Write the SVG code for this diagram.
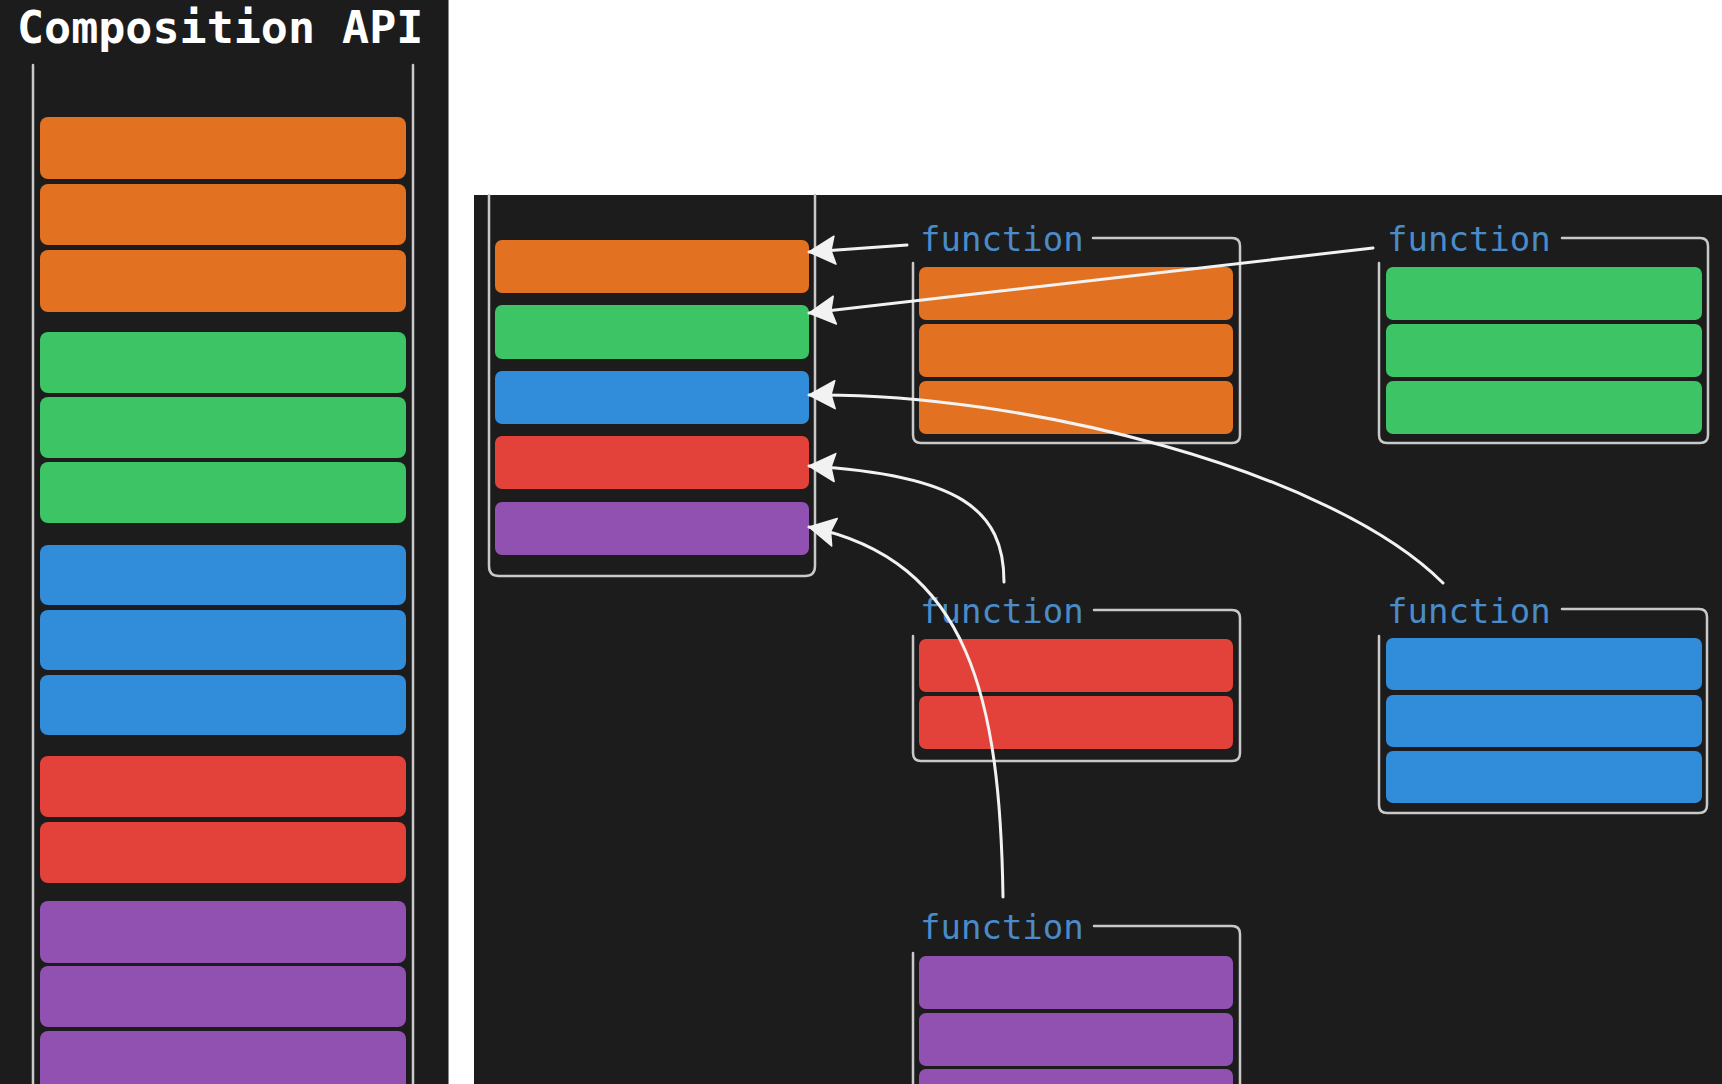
<svg xmlns="http://www.w3.org/2000/svg" width="1722" height="1084" viewBox="0 0 1722 1084">
  <defs>
    <style>
      .panel { fill: #1c1c1c; }
      .frame { fill: none; stroke: #c9c9c9; stroke-width: 2.5; stroke-linecap: round; stroke-linejoin: round; }
      .or { fill: #e27222; }
      .gr { fill: #3cc465; }
      .bl { fill: #318cda; }
      .rd { fill: #e24239; }
      .pu { fill: #9151b0; }
      .title { font-family: "DejaVu Sans Mono", "Liberation Mono", monospace; font-weight: bold; font-size: 45px; fill: #ffffff; }
      .fn { font-family: "DejaVu Sans Mono", "Liberation Mono", monospace; font-size: 34px; fill: #4a8bc8; }
      .conn { fill: none; stroke: #f2f2f2; stroke-width: 3; stroke-linecap: round; }
    </style>
    <marker id="arrow" markerUnits="userSpaceOnUse" viewBox="0 -16 28 32" markerWidth="28" markerHeight="32" refX="27" refY="0" orient="auto">
      <path d="M27,0 L1,-14 L5,0 L1,14 Z" fill="#f2f2f2" stroke="#f2f2f2" stroke-width="1.5" stroke-linejoin="round"/>
    </marker>
  </defs>

  <rect x="0" y="0" width="1722" height="1084" fill="#ffffff"/>

  <!-- Left panel -->
  <g id="left-panel">
    <rect class="panel" x="0" y="0" width="448" height="1084"/>
    <line x1="448.5" y1="0" x2="448.5" y2="1084" stroke="#8a8a8a" stroke-width="1"/>
    <text class="title" x="17" y="43">Composition API</text>
    <line class="frame" x1="33" y1="65" x2="33" y2="1090"/>
    <line class="frame" x1="413" y1="65" x2="413" y2="1090"/>
    <rect class="or" x="40" y="117" width="366" height="62" rx="8"/>
    <rect class="or" x="40" y="184" width="366" height="61" rx="8"/>
    <rect class="or" x="40" y="250" width="366" height="62" rx="8"/>
    <rect class="gr" x="40" y="332" width="366" height="61" rx="8"/>
    <rect class="gr" x="40" y="397" width="366" height="61" rx="8"/>
    <rect class="gr" x="40" y="462" width="366" height="61" rx="8"/>
    <rect class="bl" x="40" y="545" width="366" height="60" rx="8"/>
    <rect class="bl" x="40" y="610" width="366" height="60" rx="8"/>
    <rect class="bl" x="40" y="675" width="366" height="60" rx="8"/>
    <rect class="rd" x="40" y="756" width="366" height="61" rx="8"/>
    <rect class="rd" x="40" y="822" width="366" height="61" rx="8"/>
    <rect class="pu" x="40" y="901" width="366" height="62" rx="8"/>
    <rect class="pu" x="40" y="966" width="366" height="61" rx="8"/>
    <rect class="pu" x="40" y="1031" width="366" height="62" rx="8"/>
  </g>

  <!-- Right panel background -->
  <rect class="panel" x="474" y="195" width="1248" height="889"/>

  <g id="component">
    <path class="frame" d="M489,195 V566 Q489,576 499,576 H805 Q815,576 815,566 V195"/>
    <rect class="or" x="495" y="240" width="314" height="53" rx="7"/>
    <rect class="gr" x="495" y="305" width="314" height="54" rx="7"/>
    <rect class="bl" x="495" y="371" width="314" height="53" rx="7"/>
    <rect class="rd" x="495" y="436" width="314" height="53" rx="7"/>
    <rect class="pu" x="495" y="502" width="314" height="53" rx="7"/>
  </g>

  <g id="fn-orange">
    <text class="fn" x="920" y="251">function</text>
    <path class="frame" d="M1093,238 H1232 Q1240,238 1240,246 V435 Q1240,443 1232,443 H921 Q913,443 913,435 V263"/>
    <rect class="or" x="919" y="267" width="314" height="53" rx="7"/>
    <rect class="or" x="919" y="324" width="314" height="53" rx="7"/>
    <rect class="or" x="919" y="381" width="314" height="53" rx="7"/>
  </g>

  <g id="fn-green">
    <text class="fn" x="1387" y="251">function</text>
    <path class="frame" d="M1562,238 H1700 Q1708,238 1708,246 V435 Q1708,443 1700,443 H1387 Q1379,443 1379,435 V263"/>
    <rect class="gr" x="1386" y="267" width="316" height="53" rx="7"/>
    <rect class="gr" x="1386" y="324" width="316" height="53" rx="7"/>
    <rect class="gr" x="1386" y="381" width="316" height="53" rx="7"/>
  </g>

  <g id="fn-red">
    <text class="fn" x="920" y="623">function</text>
    <path class="frame" d="M1094,610 H1232 Q1240,610 1240,618 V753 Q1240,761 1232,761 H921 Q913,761 913,753 V636"/>
    <rect class="rd" x="919" y="639" width="314" height="53" rx="7"/>
    <rect class="rd" x="919" y="696" width="314" height="53" rx="7"/>
  </g>

  <g id="fn-blue">
    <text class="fn" x="1387" y="623">function</text>
    <path class="frame" d="M1562,609 H1699 Q1707,609 1707,617 V805 Q1707,813 1699,813 H1387 Q1379,813 1379,805 V636"/>
    <rect class="bl" x="1386" y="638" width="316" height="52" rx="7"/>
    <rect class="bl" x="1386" y="695" width="316" height="52" rx="7"/>
    <rect class="bl" x="1386" y="751" width="316" height="52" rx="7"/>
  </g>

  <g id="fn-purple">
    <text class="fn" x="920" y="939">function</text>
    <path class="frame" d="M1094,926 H1232 Q1240,926 1240,934 V1090"/>
    <path class="frame" d="M913,953 V1090"/>
    <rect class="pu" x="919" y="956" width="314" height="53" rx="7"/>
    <rect class="pu" x="919" y="1013" width="314" height="53" rx="7"/>
    <rect class="pu" x="919" y="1069" width="314" height="53" rx="7"/>
  </g>

  <g id="connectors">
    <path class="conn" marker-end="url(#arrow)" d="M907,245 L809,252"/>
    <path class="conn" marker-end="url(#arrow)" d="M1373,248 L809,313"/>
    <path class="conn" marker-end="url(#arrow)" d="M1443,583 C1330,470 1020,392 809,395"/>
    <path class="conn" marker-end="url(#arrow)" d="M1004,582 C1004,510 960,475 809,466"/>
    <path class="conn" marker-end="url(#arrow)" d="M1003,897 C1000,700 970,560 809,527"/>
  </g>
</svg>
